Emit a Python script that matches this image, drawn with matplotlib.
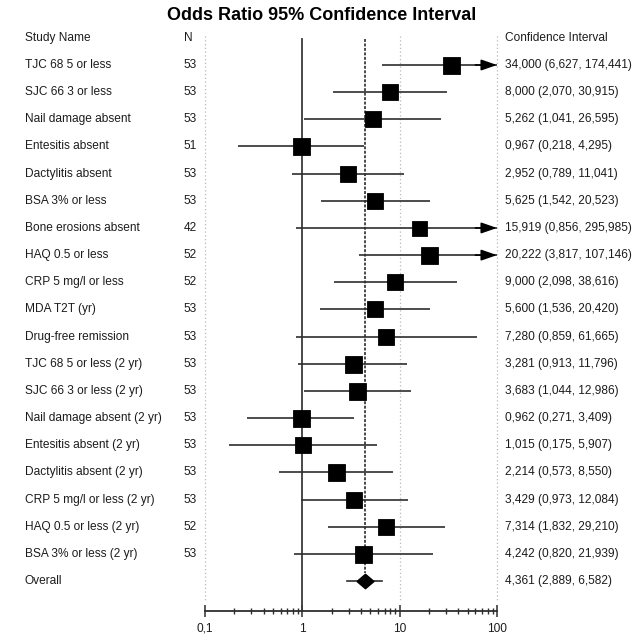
import numpy as np
import matplotlib
matplotlib.use("Agg")
import matplotlib.pyplot as plt
from matplotlib import transforms
from matplotlib.ticker import FixedLocator, FuncFormatter, LogLocator, NullFormatter

plt.rcParams['font.family'] = ['Liberation Sans', 'DejaVu Sans']

# ---- data ----
study_names = [
    "TJC 68 5 or less", "SJC 66 3 or less", "Nail damage absent", "Entesitis absent",
    "Dactylitis absent", "BSA 3% or less", "Bone erosions absent", "HAQ 0.5 or less",
    "CRP 5 mg/l or less", "MDA T2T (yr)", "Drug-free remission",
    "TJC 68 5 or less (2 yr)", "SJC 66 3 or less (2 yr)", "Nail damage absent (2 yr)",
    "Entesitis absent (2 yr)", "Dactylitis absent (2 yr)", "CRP 5 mg/l or less (2 yr)",
    "HAQ 0.5 or less (2 yr)", "BSA 3% or less (2 yr)",
]
n_values = [53, 53, 53, 51, 53, 53, 42, 52, 52, 53, 53, 53, 53, 53, 53, 53, 53, 52, 53]
odds_ratio = [34.000, 8.000, 5.262, 0.967, 2.952, 5.625, 15.919, 20.222, 9.000, 5.600,
              7.280, 3.281, 3.683, 0.962, 1.015, 2.214, 3.429, 7.314, 4.242]
ci_lower = [6.627, 2.070, 1.041, 0.218, 0.789, 1.542, 0.856, 3.817, 2.098, 1.536,
            0.859, 0.913, 1.044, 0.271, 0.175, 0.573, 0.973, 1.832, 0.820]
ci_upper = [174.441, 30.915, 26.595, 4.295, 11.041, 20.523, 295.985, 107.146, 38.616, 20.420,
            61.665, 11.796, 12.986, 3.409, 5.907, 8.550, 12.084, 29.210, 21.939]
overall_label = "Overall"
overall_or = 4.361
overall_lower = 2.889
overall_upper = 6.582
x_ticks = [0.1, 1, 10, 100]
x_tick_labels = ["0,1", "1", "10", "100"]

# ---- styling ----
box_px = [17, 16, 16, 17, 16, 16, 15, 17, 16, 16, 16, 17, 17, 17, 16, 17, 16, 16, 17]
FS = 8.6
TXT = "#1c1c1c"
LINE = "#2e2e2e"
W, H, DPI = 644, 634, 100
row_px, first_px = 27.16, 65.0


def fmt(v):
    return f"{v:.3f}".replace(".", ",")


fig = plt.figure(figsize=(W / DPI, H / DPI), dpi=DPI)
ax = fig.add_axes([205 / W, 0, 292 / W, 1])
ax.set_xscale("log")
ax.set_xlim(0.1, 100)
ax.set_ylim((H - first_px) / row_px, -first_px / row_px)
ax.patch.set_alpha(0)

for s in ("top", "left", "right"):
    ax.spines[s].set_visible(False)
axis_y = (611 - first_px) / row_px
ax.spines["bottom"].set_position(("data", axis_y))
ax.spines["bottom"].set_color(LINE)
ax.spines["bottom"].set_linewidth(1.3)
ax.set_yticks([])

ax.xaxis.set_major_locator(FixedLocator(x_ticks))
ax.xaxis.set_major_formatter(FuncFormatter(lambda v, p: x_tick_labels[x_ticks.index(v)] if v in x_ticks else ""))
ax.xaxis.set_minor_locator(LogLocator(base=10, subs=np.arange(2, 10)))
ax.xaxis.set_minor_formatter(NullFormatter())
ax.tick_params(axis="x", which="major", direction="inout", length=9, width=1.1,
               color=LINE, labelsize=FS, labelcolor=TXT, pad=4)
ax.tick_params(axis="x", which="minor", direction="inout", length=4.5, width=1.0, color=LINE)

n_rows = len(study_names)
header_y = -1
overall_y = n_rows

# reference lines
grid_top = header_y - 0.05
for gx in (0.1, 10, 100):
    ax.plot([gx, gx], [grid_top, (600 - first_px) / row_px], ls=(0, (1, 2)),
            color="#b8b8b8", lw=0.9, zorder=1, clip_on=False)
ax.plot([1, 1], [grid_top + 0.1, axis_y], color="#3a3a3a", lw=1.3, zorder=2, clip_on=False)
ax.plot([overall_or, overall_or], [grid_top + 0.1, overall_y - 0.3], ls=(0, (1.5, 0.8)),
        color="#4a4a4a", lw=1.4, zorder=2, clip_on=False)

# study rows
ys = np.arange(n_rows)
for i in range(n_rows):
    y = ys[i]
    lo, hi, est = ci_lower[i], ci_upper[i], odds_ratio[i]
    if hi > 100:
        ax.plot([lo, 100], [y, y], color=LINE, lw=1.2, zorder=3, solid_capstyle="butt")
        ax.annotate("", xy=(100, y), xytext=(60, y),
                    arrowprops=dict(arrowstyle="-|>,head_length=0.95,head_width=0.33",
                                    color="black", lw=1.2, shrinkA=0, shrinkB=0,
                                    mutation_scale=10),
                    zorder=3, annotation_clip=False)
    else:
        ax.plot([lo, hi], [y, y], color=LINE, lw=1.2, zorder=3, solid_capstyle="butt")
    ax.plot([est], [y], marker="s", ms=box_px[i] * 72 / DPI, color="black",
            mec="black", mew=0.6, zorder=4, clip_on=False, ls="none")

# overall row
ax.plot([overall_lower, overall_upper], [overall_y, overall_y], color=LINE, lw=1.2, zorder=3)
diamond = [(-1, 0), (0, 0.85), (1, 0), (0, -0.85), (-1, 0)]
ax.plot([overall_or], [overall_y], marker=diamond, ms=17 * 72 / DPI, color="black",
        zorder=4, ls="none", clip_on=False)

# text columns
tr = transforms.blended_transform_factory(fig.transFigure, ax.transData)
name_x, n_x, ci_x = 25 / W, 184 / W, 505 / W
ax.text(name_x, header_y, "Study Name", transform=tr, ha="left", va="center", fontsize=FS, color=TXT)
ax.text(n_x, header_y, "N", transform=tr, ha="left", va="center", fontsize=FS, color=TXT)
ax.text(ci_x, header_y, "Confidence Interval", transform=tr, ha="left", va="center", fontsize=FS, color=TXT)
for i in range(n_rows):
    y = ys[i]
    ax.text(name_x, y, study_names[i], transform=tr, ha="left", va="center", fontsize=FS, color=TXT)
    ax.text(n_x, y, str(n_values[i]), transform=tr, ha="left", va="center", fontsize=FS, color=TXT)
    ax.text(ci_x, y, f"{fmt(odds_ratio[i])} ({fmt(ci_lower[i])}, {fmt(ci_upper[i])})",
            transform=tr, ha="left", va="center", fontsize=FS, color=TXT)
ax.text(name_x, overall_y, overall_label, transform=tr, ha="left", va="center", fontsize=FS, color=TXT)
ax.text(ci_x, overall_y, f"{fmt(overall_or)} ({fmt(overall_lower)}, {fmt(overall_upper)})",
        transform=tr, ha="left", va="center", fontsize=FS, color=TXT)

fig.text(0.5, 1 - 15 / H, "Odds Ratio 95% Confidence Interval", ha="center", va="center",
         fontsize=13, fontweight="bold", color="black")

fig.savefig("out.png", dpi=DPI)
